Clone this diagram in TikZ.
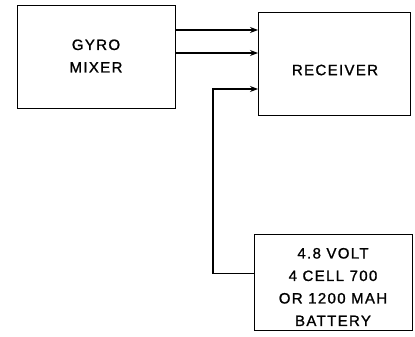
\documentclass[tikz,border=0pt]{standalone}
\usepackage{fontspec}
\setmainfont{Liberation Sans}[LetterSpace=9,FakeBold=1.2]
\usetikzlibrary{arrows.meta,calc}
\begin{document}
\begin{tikzpicture}[x=1pt,y=-1pt,
  box/.style={draw, line width=1.3pt, inner sep=0pt},
  lbl/.style={font=\fontsize{15}{22.5}\selectfont, align=center, inner sep=0pt},
  conn/.style={line width=1.2pt, -{Stealth[length=8pt,width=6pt]}}]
\useasboundingbox (0,0) rectangle (415,337);
\node[box, anchor=north west, minimum width=158pt, minimum height=103pt] (gyro) at (17,5) {};
\node[box, anchor=north west, minimum width=152pt, minimum height=103pt] (rec) at (258,12) {};
\node[box, anchor=north west, minimum width=158pt, minimum height=96pt] (bat) at (254,234) {};
\node[lbl] (gyrot) at (96,56) {GYRO\\MIXER};
\node[lbl] (rect) at (335,70) {RECEIVER};
\node[lbl] (batt) at (333,287) {4.8 VOLT\\4 CELL 700\\OR 1200 MAH\\BATTERY};
\coordinate (a1) at (0,30);
\coordinate (a2) at (0,53);
\coordinate (c3) at (213,89);
\draw[conn] (gyro.east |- a1) -- (rec.west |- a1);
\draw[conn] (gyro.east |- a2) -- (rec.west |- a2);
\draw[conn] ([yshift=9pt]bat.west) -| (c3) -- (rec.west |- c3);
\end{tikzpicture}
\end{document}
